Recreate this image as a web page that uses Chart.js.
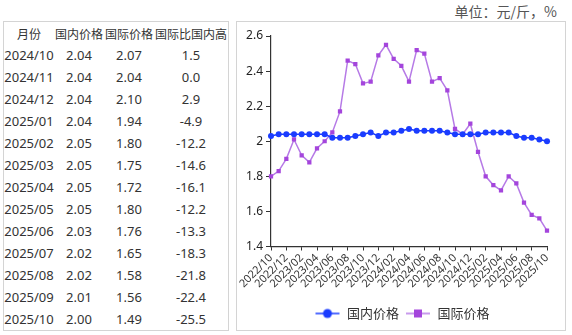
<!DOCTYPE html>
<html>
<head>
<meta charset="utf-8">
<script src="https://cdn.jsdelivr.net/npm/chart.js@4.4.1/dist/chart.umd.min.js"></script>
<style>
  body { margin: 0; width: 572px; height: 335px; background: #fff; position: relative; overflow: hidden;
         font-family: "Noto Sans", "Noto Sans CJK SC", sans-serif; color: #333; }
  #unit { position: absolute; right: 15px; top: 1px; font: 14px "Noto Sans CJK SC"; color: #555; }
  #tbl { position: absolute; left: 3px; top: 21px; width: 226px; height: 310px; box-sizing: border-box;
         border: 1px solid #d4d4d4; border-collapse: collapse; }
  #tbl td, #tbl th { height: 22px; padding: 0; text-align: center; font-size: 13px; font-weight: normal; white-space: nowrap; }
  #tbl th { font: 12px "Noto Sans CJK SC"; }
  #box { position: absolute; left: 236px; top: 21px; width: 330px; height: 310px; box-sizing: border-box;
         border: 1px solid #d4d4d4; }
  #wrap { position: absolute; left: 237px; top: 22px; width: 328px; height: 308px; }
</style>
</head>
<body>
<div id="unit">单位：元/斤，%</div>
<table id="tbl">
  <thead><tr><th style="width:50px">月份</th><th style="width:50px">国内价格</th><th style="width:50px">国际价格</th><th>国际比国内高</th></tr></thead>
  <tbody id="tbody"></tbody>
</table>
<div id="box"></div>
<div id="wrap"><canvas id="myChart" width="328" height="308"></canvas></div>
<script>
// 月份 2022/10 - 2025/10
var months = [
  '2022/10','2022/11','2022/12','2023/01','2023/02','2023/03','2023/04','2023/05','2023/06','2023/07',
  '2023/08','2023/09','2023/10','2023/11','2023/12','2024/01','2024/02','2024/03','2024/04','2024/05',
  '2024/06','2024/07','2024/08','2024/09','2024/10','2024/11','2024/12','2025/01','2025/02','2025/03',
  '2025/04','2025/05','2025/06','2025/07','2025/08','2025/09','2025/10'
];
var domesticPrice = [
  2.03, 2.04, 2.04, 2.04, 2.04, 2.04, 2.04, 2.04, 2.02, 2.02,
  2.02, 2.03, 2.04, 2.05, 2.03, 2.05, 2.05, 2.06, 2.07, 2.06,
  2.06, 2.06, 2.06, 2.05, 2.04, 2.04, 2.04, 2.04, 2.05, 2.05,
  2.05, 2.05, 2.03, 2.02, 2.02, 2.01, 2.00
];
var intlPrice = [
  1.80, 1.83, 1.90, 2.01, 1.92, 1.88, 1.96, 2.00, 2.05, 2.17,
  2.46, 2.44, 2.33, 2.34, 2.49, 2.55, 2.47, 2.43, 2.34, 2.52,
  2.50, 2.34, 2.36, 2.29, 2.07, 2.04, 2.10, 1.94, 1.80, 1.75,
  1.72, 1.80, 1.76, 1.65, 1.58, 1.56, 1.49
];
// 表格：最近13个月
var tableMonths = ['2024/10','2024/11','2024/12','2025/01','2025/02','2025/03','2025/04','2025/05','2025/06','2025/07','2025/08','2025/09','2025/10'];
var tableDomestic = ['2.04','2.04','2.04','2.04','2.05','2.05','2.05','2.05','2.03','2.02','2.02','2.01','2.00'];
var tableIntl = ['2.07','2.04','2.10','1.94','1.80','1.75','1.72','1.80','1.76','1.65','1.58','1.56','1.49'];
var tableGap = ['1.5','0.0','2.9','-4.9','-12.2','-14.6','-16.1','-12.2','-13.3','-18.3','-21.8','-22.4','-25.5'];

var blue = '#1a3cff';
var purple = '#a445dc';
var purpleLine = '#b67ae6';

var tbody = document.getElementById('tbody');
tableMonths.forEach(function(m, i) {
  var tr = document.createElement('tr');
  [m, tableDomestic[i], tableIntl[i], tableGap[i]].forEach(function(v) {
    var td = document.createElement('td');
    td.textContent = v;
    tr.appendChild(td);
  });
  tbody.appendChild(tr);
});

// legend icon: line + marker
function legendIcon(color, lineColor, shape) {
  var c = document.createElement('canvas');
  c.width = 26; c.height = 12;
  var g = c.getContext('2d');
  g.strokeStyle = lineColor; g.lineWidth = 1.5;
  g.beginPath(); g.moveTo(1, 6); g.lineTo(25, 6); g.stroke();
  g.fillStyle = color;
  if (shape === 'circle') {
    g.beginPath(); g.arc(13, 6, 4.5, 0, Math.PI * 2); g.fill();
  } else {
    g.fillRect(9, 2, 8, 8);
  }
  return c;
}
var icons = [legendIcon(blue, blue, 'circle'), legendIcon(purple, purpleLine, 'rect')];

// 图例整体右移一点，和原图对齐
var shiftLegend = {
  id: 'shiftLegend',
  afterLayout: function(chart) {
    chart.legend.left += 8;
    chart.legend.right += 8;
  }
};

var ctx = document.getElementById('myChart').getContext('2d');
new Chart(ctx, {
  type: 'line',
  data: {
    labels: months,
    datasets: [
      {
        label: '国内价格',
        data: domesticPrice,
        borderColor: blue,
        backgroundColor: blue,
        borderWidth: 1.5,
        pointStyle: 'circle',
        pointRadius: 3,
        pointBorderWidth: 0,
        tension: 0
      },
      {
        label: '国际价格',
        data: intlPrice,
        borderColor: purpleLine,
        backgroundColor: purple,
        borderWidth: 1.5,
        pointStyle: 'rect',
        pointRadius: 3,
        pointBorderWidth: 0,
        tension: 0
      }
    ]
  },
  plugins: [shiftLegend],
  options: {
    responsive: false,
    animation: false,
    layout: { padding: { top: 14, right: 18, left: 4, bottom: 0 } },
    plugins: {
      tooltip: { enabled: false },
      legend: {
        position: 'bottom',
        labels: {
          usePointStyle: true,
          pointStyleWidth: 26,
          padding: 6,
          color: '#333',
          font: { family: 'Noto Sans CJK SC', size: 13 },
          generateLabels: function(chart) {
            return chart.data.datasets.map(function(ds, i) {
              return { text: ds.label, pointStyle: icons[i], fillStyle: ds.backgroundColor,
                       strokeStyle: ds.borderColor, lineWidth: 0, datasetIndex: i, fontColor: '#333' };
            });
          }
        }
      }
    },
    scales: {
      x: {
        offset: false,
        grid: { drawOnChartArea: false, drawTicks: true, tickLength: 4, color: '#333' },
        border: { color: '#333', width: 1.2 },
        ticks: {
          autoSkip: false, minRotation: 45, maxRotation: 45, padding: 1,
          color: '#333', font: { family: 'Noto Sans', size: 11 },
          callback: function(v, i) { return i % 2 === 0 ? months[i] : null; }
        },
        afterFit: function(scale) { scale.height = 54.5; }
      },
      y: {
        min: 1.4, max: 2.6,
        grid: { drawOnChartArea: false, drawTicks: true, tickLength: 5, color: '#333' },
        border: { color: '#333', width: 1.2 },
        ticks: {
          stepSize: 0.2, padding: 3, color: '#222', font: { family: 'Noto Sans', size: 12 },
          callback: function(v) { return String(Math.round(v * 10) / 10); }
        },
        afterFit: function(scale) { scale.width = 30; }
      }
    }
  }
});
</script>
</body>
</html>
